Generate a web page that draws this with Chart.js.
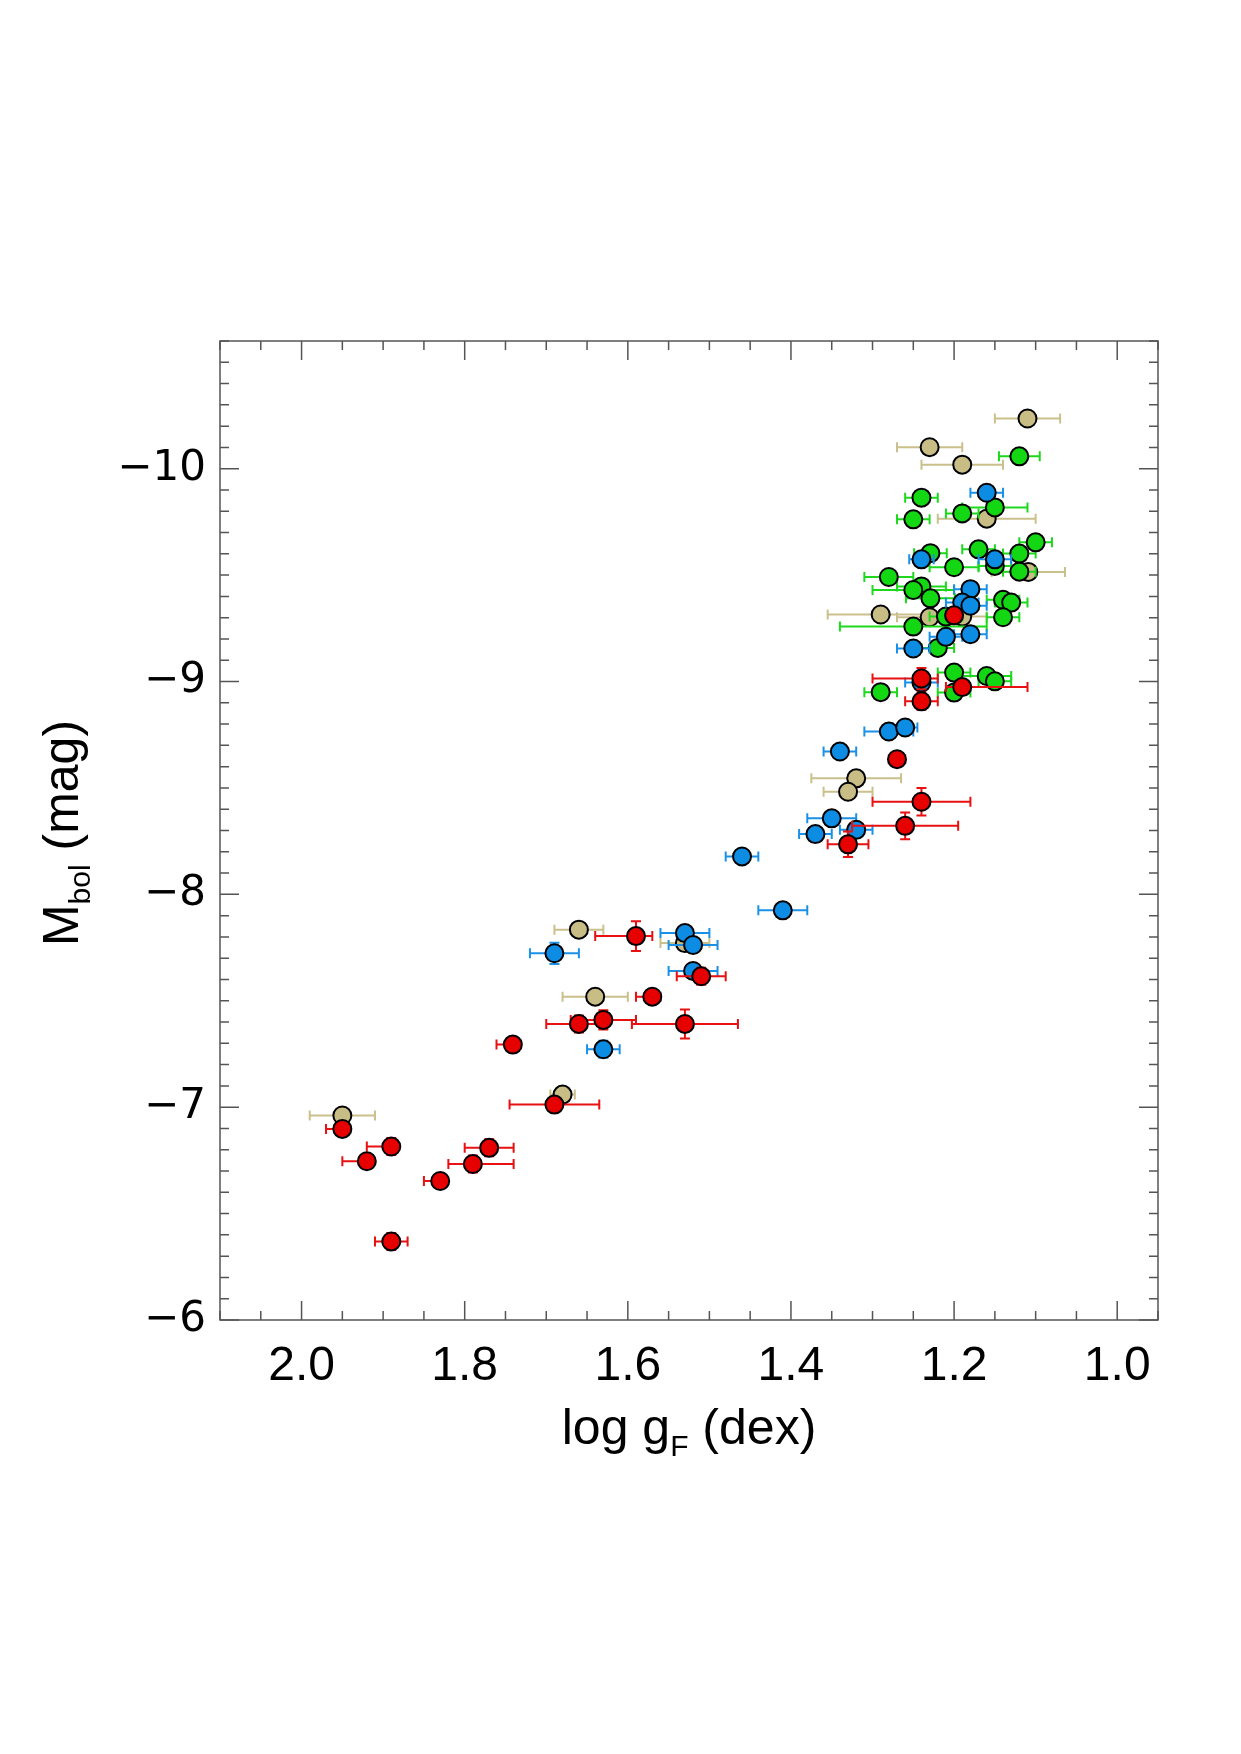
<!DOCTYPE html>
<html>
<head>
<meta charset="utf-8">
<script src="https://cdn.jsdelivr.net/npm/chart.js@4.4.1/dist/chart.umd.min.js"></script>
<style>
  html, body { margin: 0; padding: 0; background: #fff; }
  canvas { display: block; }
</style>
</head>
<body>
<canvas id="mbolChart" width="1241" height="1754"></canvas>
<script>
// tick values
const xTickValues = [2.0, 1.8, 1.6, 1.4, 1.2, 1.0];
const yTickValues = [-10, -9, -8, -7, -6];
const xMinorStep = 0.05;
const yMinorStep = 0.1;

// red group: log g, Mbol, error toward higher log g, toward lower log g, error in Mbol
const redLogg = [1.200, 1.240, 1.190, 1.240, 1.270, 1.240, 1.260, 1.330, 1.590, 1.510, 1.570, 1.630,
    1.660, 1.530, 1.741, 1.690, 1.950, 1.890, 1.770, 1.920, 1.790, 1.830, 1.890];
const redMbol = [-9.311, -9.014, -8.974, -8.907, -8.635, -8.435, -8.322, -8.235, -7.804, -7.615, -7.519, -7.410,
    -7.391, -7.391, -7.294, -7.012, -6.898, -6.815, -6.809, -6.746, -6.733, -6.653, -6.369];
const redErrUp = [0.01, 0.06, 0.02, 0.02, 0.01, 0.06, 0.065, 0.025, 0.05, 0.03, 0.02, 0.04,
    0.04, 0.065, 0.02, 0.055, 0.02, 0.03, 0.03, 0.03, 0.03, 0.02, 0.02];
const redErrDn = [0.01, 0.02, 0.08, 0.02, 0.01, 0.06, 0.065, 0.025, 0.02, 0.03, 0.01, 0.04,
    0.03, 0.065, 0.01, 0.055, 0, 0, 0.03, 0, 0.05, 0, 0.02];
const redErrM = [0.03, 0.05, 0.03, 0.04, 0.02, 0.065, 0.063, 0.06, 0.07, 0.04, 0.03, 0.045,
    0.04, 0.068, 0.03, 0.03, 0.03, 0.04, 0.04, 0.03, 0.04, 0.03, 0.04];

// blue group
const blueLogg = [1.160, 1.240, 1.150, 1.180, 1.190, 1.180, 1.210, 1.180, 1.250, 1.240, 1.280, 1.260,
    1.340, 1.350, 1.320, 1.370, 1.460, 1.410, 1.530, 1.520, 1.690, 1.520, 1.630];
const blueMbol = [-9.887, -9.574, -9.574, -9.434, -9.371, -9.356, -9.210, -9.222, -9.155, -8.995, -8.765, -8.784,
    -8.671, -8.357, -8.303, -8.283, -8.178, -7.925, -7.818, -7.762, -7.723, -7.640, -7.272];
const blueErrG = [0.02, 0.015, 0.02, 0.02, 0.02, 0.02, 0.02, 0.02, 0.02, 0.02, 0.03, 0.015,
    0.02, 0.03, 0.02, 0.02, 0.02, 0.03, 0.03, 0.03, 0.03, 0.03, 0.02];
const blueErrM = [0.03, 0.03, 0.03, 0.03, 0.03, 0.03, 0.03, 0.03, 0.03, 0.03, 0.03, 0.03,
    0.03, 0.03, 0.03, 0.03, 0.03, 0.03, 0.03, 0.03, 0.05, 0.03, 0.04];

// green group
const greenLogg = [1.120, 1.240, 1.150, 1.190, 1.250, 1.100, 1.170, 1.229, 1.120, 1.150, 1.200, 1.120,
    1.280, 1.240, 1.250, 1.229, 1.140, 1.130, 1.210, 1.140, 1.250, 1.220, 1.200, 1.160, 1.150, 1.290, 1.200];
const greenMbol = [-10.058, -9.864, -9.818, -9.790, -9.762, -9.654, -9.621, -9.603, -9.601, -9.543, -9.537, -9.516,
    -9.491, -9.447, -9.430, -9.391, -9.384, -9.371, -9.305, -9.302, -9.258, -9.158, -9.042, -9.026, -9.001, -8.950, -8.948];
const greenErrG = [0.025, 0.02, 0.04, 0.02, 0.02, 0.02, 0.02, 0.02, 0.02, 0.02, 0.03, 0.02,
    0.03, 0.03, 0.05, 0.03, 0.02, 0.02, 0.02, 0.02, 0.09, 0.02, 0.02, 0.03, 0.02, 0.02, 0.02];
const greenErrM = [0.02, 0.02, 0.02, 0.02, 0.02, 0.02, 0.02, 0.02, 0.02, 0.02, 0.02, 0.02,
    0.02, 0.02, 0.02, 0.02, 0.02, 0.02, 0.02, 0.02, 0.02, 0.02, 0.02, 0.02, 0.02, 0.02, 0.02];

// tan group
const tanLogg = [1.110, 1.230, 1.190, 1.160, 1.109, 1.290, 1.230, 1.190, 1.320, 1.330, 1.660, 1.530,
    1.640, 1.680, 1.950];
const tanMbol = [-10.236, -10.101, -10.019, -9.765, -9.515, -9.315, -9.302, -9.305, -8.545, -8.482, -7.834, -7.771,
    -7.519, -7.059, -6.961];
const tanErrG = [0.04, 0.04, 0.05, 0.06, 0.045, 0.065, 0.04, 0.03, 0.055, 0.03, 0.03, 0.03,
    0.04, 0.015, 0.04];
const tanErrM = [0.03, 0.03, 0.03, 0.03, 0.03, 0.03, 0.03, 0.03, 0.03, 0.03, 0.03, 0.03,
    0.03, 0.03, 0.03];

function group(fill, bar, logg, mbol, errUp, errDn, errM) {
    return {
        data: logg.map((g, i) => ({ x: g, y: mbol[i] })),
        errUp: errUp,
        errDn: errDn,
        errM: errM,
        barColor: bar,
        backgroundColor: fill,
        borderColor: "#000",
        pointBorderWidth: 2,
        pointRadius: 9,
        pointHoverRadius: 9
    };
}

// index 0 ends up on top
const datasets = [
    group("#e60000", "#e81010", redLogg, redMbol, redErrUp, redErrDn, redErrM),
    group("#0d8ce3", "#1a90e6", blueLogg, blueMbol, blueErrG, blueErrG, blueErrM),
    group("#14d714", "#1ed81e", greenLogg, greenMbol, greenErrG, greenErrG, greenErrM),
    group("#c8bd85", "#c9c08c", tanLogg, tanMbol, tanErrG, tanErrG, tanErrM)
];

/*ERROR BARS, drawn just under each group's markers*/
const errorBars = {
    id: "errorBars",
    beforeDatasetDraw(chart, args) {
        const ds = chart.data.datasets[args.index];
        const { ctx, scales: { x, y } } = chart;
        const cap = 5;
        ctx.save();
        ctx.strokeStyle = ds.barColor;
        ctx.lineWidth = 2;
        ds.data.forEach((p, i) => {
            const px = x.getPixelForValue(p.x);
            const py = y.getPixelForValue(p.y);
            const xl = x.getPixelForValue(p.x + ds.errUp[i]);
            const xr = x.getPixelForValue(p.x - ds.errDn[i]);
            const yt = y.getPixelForValue(p.y - ds.errM[i]);
            const yb = y.getPixelForValue(p.y + ds.errM[i]);
            ctx.beginPath();
            ctx.moveTo(xl, py); ctx.lineTo(xr, py);
            if (ds.errUp[i] > 0) { ctx.moveTo(xl, py - cap); ctx.lineTo(xl, py + cap); }
            if (ds.errDn[i] > 0) { ctx.moveTo(xr, py - cap); ctx.lineTo(xr, py + cap); }
            ctx.moveTo(px, yt); ctx.lineTo(px, yb);
            ctx.moveTo(px - cap, yt); ctx.lineTo(px + cap, yt);
            ctx.moveTo(px - cap, yb); ctx.lineTo(px + cap, yb);
            ctx.stroke();
        });
        ctx.restore();
    }
};

/*FRAME, INWARD TICKS, AXIS TITLES*/
const frame = {
    id: "frame",
    afterDraw(chart) {
        const { ctx, chartArea: a, scales: { x, y } } = chart;
        ctx.save();
        ctx.strokeStyle = "#555";
        ctx.lineWidth = 1.5;
        ctx.strokeRect(a.left, a.top, a.right - a.left, a.bottom - a.top);

        ctx.beginPath();
        const xMin = Math.min(x.min, x.max), xMax = Math.max(x.min, x.max);
        for (let k = Math.ceil(xMin / xMinorStep - 1e-6); k * xMinorStep <= xMax + 1e-9; k++) {
            const v = k * xMinorStep;
            const major = xTickValues.some(t => Math.abs(t - v) < 1e-6);
            const len = major ? 19 : 9;
            const px = x.getPixelForValue(v);
            ctx.moveTo(px, a.bottom); ctx.lineTo(px, a.bottom - len);
            ctx.moveTo(px, a.top); ctx.lineTo(px, a.top + len);
        }
        const yMin = Math.min(y.min, y.max), yMax = Math.max(y.min, y.max);
        for (let k = Math.ceil(yMin / yMinorStep - 1e-6); k * yMinorStep <= yMax + 1e-9; k++) {
            const v = k * yMinorStep;
            const major = yTickValues.some(t => Math.abs(t - v) < 1e-6);
            const len = major ? 19 : 9;
            const py = y.getPixelForValue(v);
            ctx.moveTo(a.left, py); ctx.lineTo(a.left + len, py);
            ctx.moveTo(a.right, py); ctx.lineTo(a.right - len, py);
        }
        ctx.stroke();

        // axis titles with subscripts
        ctx.fillStyle = "#000";
        ctx.textBaseline = "alphabetic";
        ctx.textAlign = "left";
        const big = "50px 'Liberation Sans', Arial, sans-serif";
        const small = "30px 'Liberation Sans', Arial, sans-serif";

        // x title
        ctx.font = big;
        const w1 = ctx.measureText("log g").width;
        const w3 = ctx.measureText(" (dex)").width;
        ctx.font = small;
        const w2 = ctx.measureText("F").width;
        let sx = (a.left + a.right) / 2 - (w1 + w2 + w3) / 2;
        const by = 1444;
        ctx.font = big; ctx.fillText("log g", sx, by);
        ctx.font = small; ctx.fillText("F", sx + w1, by + 12);
        ctx.font = big; ctx.fillText(" (dex)", sx + w1 + w2, by);

        // y title
        ctx.translate(78, 833);
        ctx.rotate(-Math.PI / 2);
        ctx.font = big;
        const m1 = ctx.measureText("M").width;
        const m3 = ctx.measureText(" (mag)").width;
        ctx.font = small;
        const m2 = ctx.measureText("bol").width;
        const sy = -(m1 + m2 + m3) / 2;
        ctx.font = big; ctx.fillText("M", sy, 0);
        ctx.font = small; ctx.fillText("bol", sy + m1, 12);
        ctx.font = big; ctx.fillText(" (mag)", sy + m1 + m2, 0);
        ctx.restore();
    }
};

new Chart(document.getElementById("mbolChart"), {
    type: "scatter",
    data: { datasets: datasets },
    options: {
        responsive: false,
        animation: false,
        events: [],
        layout: { padding: { left: 0, top: 341, right: 83, bottom: 314 } },
        plugins: { legend: { display: false }, tooltip: { enabled: false } },
        scales: {
            x: {
                type: "linear",
                reverse: true,
                min: 0.95,
                max: 2.1,
                afterBuildTicks: s => { s.ticks = xTickValues.map(v => ({ value: v })); },
                afterFit: s => { s.height = 120; },
                grid: { display: false, drawTicks: false },
                border: { display: false },
                ticks: {
                    color: "#000",
                    padding: 18,
                    maxRotation: 0,
                    font: { family: "'Liberation Sans', Arial, sans-serif", size: 48 },
                    callback: v => Number(v).toFixed(1)
                }
            },
            y: {
                type: "linear",
                reverse: true,
                min: -10.6,
                max: -6,
                afterBuildTicks: s => { s.ticks = yTickValues.map(v => ({ value: v })); },
                afterFit: s => { s.width = 220; },
                grid: { display: false, drawTicks: false },
                border: { display: false },
                ticks: {
                    color: "#000",
                    padding: 14,
                    font: { family: "'DejaVu Sans', sans-serif", size: 42 },
                    callback: v => "\u2212" + Math.abs(v)
                }
            }
        }
    },
    plugins: [errorBars, frame]
});
</script>
</body>
</html>
